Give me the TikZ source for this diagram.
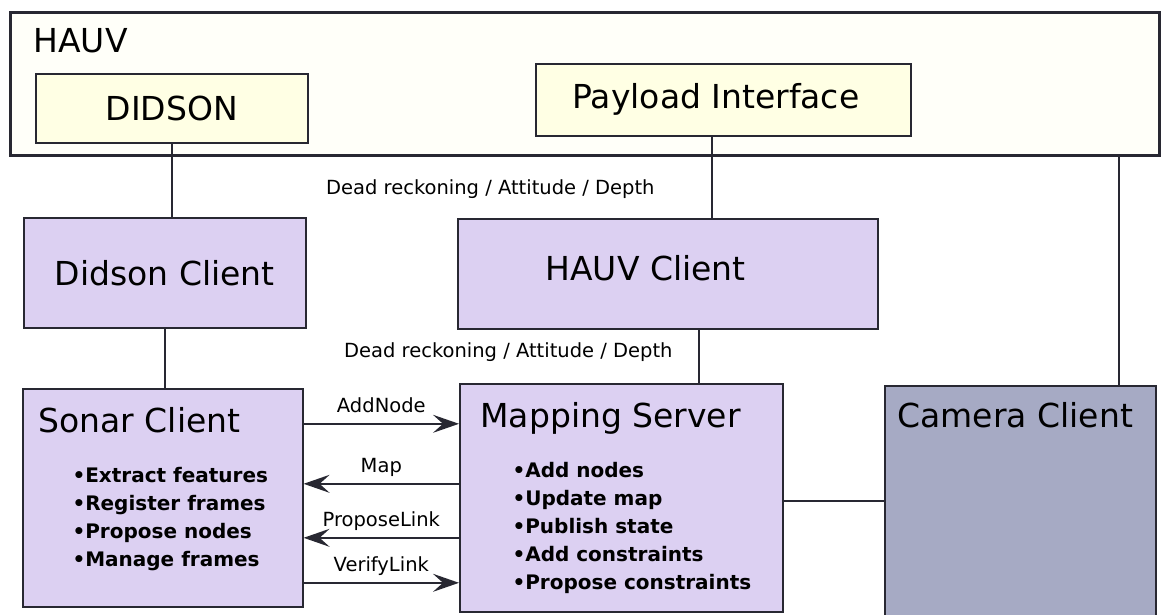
\documentclass[tikz,border=0pt]{standalone}
\usepackage{fontspec}
\setmainfont{DejaVu Sans}
\usetikzlibrary{arrows.meta,positioning}
\tikzstyle{every node}=[line width=1pt]
\tikzset{>={Stealth[length=26pt,width=18pt,inset=10pt]}}
\definecolor{hauvyel}{RGB}{255,255,249}
\definecolor{boxyel}{RGB}{255,255,228}
\definecolor{clientlav}{RGB}{220,208,242}
\definecolor{camgray}{RGB}{166,170,196}
\definecolor{edge}{RGB}{40,40,50}

\begin{document}
\begin{tikzpicture}[x=1pt,y=-1pt]
      %%%%%%%%%%%%%%%%%%%%%%%%%%%%%%%%%%%%%%%%%%%%%%%%%%
      %% HAUV, its clients and the mapping server
      %%%%%%%%%%%%%%%%%%%%%%%%%%%%%%%%%%%%%%%%%%%%%%%%%%
      \tikzstyle{hnode} = [draw=edge, line width=3pt, fill=hauvyel, rectangle, inner sep=0pt, anchor=north west]
      \tikzstyle{ynode} = [draw=edge, line width=1.6pt, fill=boxyel, rectangle, inner sep=0pt, anchor=north west, font=\fontsize{33}{39}\selectfont]
      \tikzstyle{cnode} = [draw=edge, line width=1.6pt, fill=clientlav, rectangle, inner sep=0pt, anchor=north west, font=\fontsize{33}{39}\selectfont]
      \tikzstyle{gnode} = [cnode, fill=camgray]
      \tikzstyle{tnode} = [inner sep=0pt, anchor=base west, font=\fontsize{33}{39}\selectfont]
      \tikzstyle{bnode} = [inner sep=0pt, anchor=north west, align=left, font=\fontsize{20}{28}\selectfont\bfseries]
      \tikzstyle{lnode} = [inner sep=0pt, text depth=0pt, font=\fontsize{19.5}{23}\selectfont]
      \tikzstyle{link} = [draw=edge, line width=1.8pt]
      \useasboundingbox (0,0) rectangle (1161,614);

      \node[hnode, minimum width=1149pt, minimum height=143pt] (hauv) at (9,11) {};
      \node[tnode] (hauvttl) at ([xshift=24pt,yshift=-41pt]hauv.north west) {HAUV};
      \node[ynode, minimum width=272pt, minimum height=69pt] (didson) at (35,73) {DIDSON};
      \node[ynode, minimum width=375pt, minimum height=72pt] (payload) at (535,63) {};
      \node[tnode] (payloadttl) at ([xshift=37pt,yshift=-45pt]payload.north west) {Payload Interface};

      \node[cnode, minimum width=282pt, minimum height=110pt] (didsonc) at (23,217) {Didson Client};
      \node[cnode, minimum width=420pt, minimum height=110pt] (hauvc) at (457,218) {};
      \node[tnode] (hauvcttl) at ([xshift=88pt,yshift=-62pt]hauvc.north west) {HAUV Client};

      \node[cnode, minimum width=280pt, minimum height=218pt] (sonar) at (22,388) {};
      \node[tnode] (sonarttl) at ([xshift=16pt,yshift=-44pt]sonar.north west) {Sonar Client};
      \node[bnode] (sonarlst) at ([xshift=50pt,yshift=-79pt]sonar.north west)
        {•Extract features\\•Register frames\\•Propose nodes\\•Manage frames};

      \node[cnode, minimum width=323pt, minimum height=228pt] (mapping) at (459,383) {};
      \node[tnode] (mappingttl) at ([xshift=21pt,yshift=-44pt]mapping.north west) {Mapping Server};
      \node[bnode] (mappinglst) at ([xshift=53pt,yshift=-79pt]mapping.north west)
        {•Add nodes\\•Update map\\•Publish state\\•Add constraints\\•Propose constraints};

      \node[gnode, minimum width=271pt, minimum height=230pt] (camera) at (884,385) {};
      \node[tnode] (camerattl) at ([xshift=13pt,yshift=-42pt]camera.north west) {Camera Client};

      \node[lnode, anchor=base east] (drtop) at (655,194) {Dead reckoning / Attitude / Depth};
      \node[lnode, anchor=base east] (drlow) at (673,357) {Dead reckoning / Attitude / Depth};

      \coordinate (paylink) at ([xshift=-11.5pt]payload.south);
      \coordinate (hauvlink) at ([xshift=31pt]hauvc.south);
      \coordinate (camlink) at ([xshift=-42pt]hauv.south east);
      \draw[link] (didson.south) -- (didson.south |- didsonc.north);
      \draw[link] (didsonc.south) -- (didsonc.south |- sonar.north);
      \draw[link] (paylink) -- (paylink |- hauvc.north);
      \draw[link] (hauvlink) -- (hauvlink |- mapping.north);
      \draw[link] (camlink) -- (camlink |- camera.north);
      \draw[link] ([yshift=-3pt]mapping.east) -- (camera.west);

      \draw[link, ->] ([yshift=74pt]sonar.east) -- ([yshift=74pt]mapping.west) node[lnode, midway, above=11pt] (addnode) {AddNode};
      \draw[link, ->] ([yshift=14pt]mapping.west) -- ([yshift=14pt]sonar.east) node[lnode, midway, above=11pt] (map) {Map};
      \draw[link, ->] ([yshift=-40pt]mapping.west) -- ([yshift=-40pt]sonar.east) node[lnode, midway, above=11pt] (propose) {ProposeLink};
      \draw[link, ->] ([yshift=-85pt]sonar.east) -- ([yshift=-85pt]mapping.west) node[lnode, midway, above=11pt] (verify) {VerifyLink};
\end{tikzpicture}
\end{document}
